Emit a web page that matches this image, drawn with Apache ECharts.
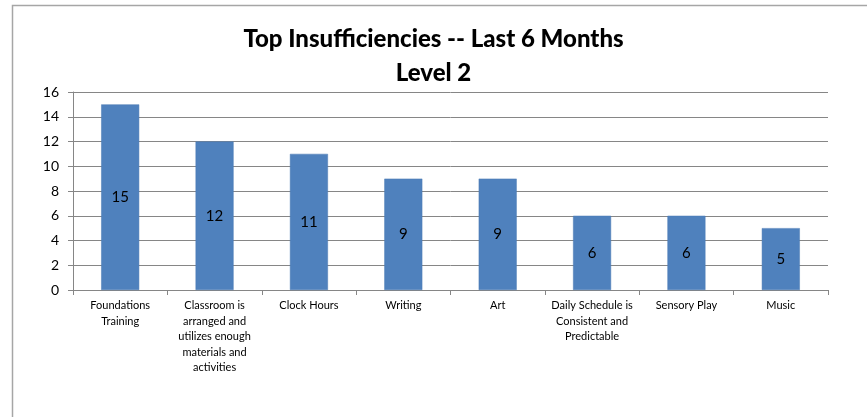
<!DOCTYPE html>
<html>
<head>
<meta charset="utf-8">
<script src="https://cdn.jsdelivr.net/npm/echarts@6/dist/echarts.min.js"></script>
<style>
  html, body { margin: 0; padding: 0; background: #fff; }
  #main { width: 867px; height: 417px; }
</style>
</head>
<body>
<div id="main"></div>
<script>
// chart data
const categories = [
  'Foundations\nTraining',
  'Classroom is\narranged and\nutilizes enough\nmaterials and\nactivities',
  'Clock Hours',
  'Writing',
  'Art',
  'Daily Schedule is\nConsistent and\nPredictable',
  'Sensory Play',
  'Music'
]
const counts = [15, 12, 11, 9, 9, 6, 6, 5]
const yTicks = [0, 2, 4, 6, 8, 10, 12, 14, 16]

const fontFamily = 'Lato, "Open Sans", sans-serif'

const chartObj = echarts.init(document.getElementById('main'))
const option = {
  animation: false,
  backgroundColor: '#fff',
  textStyle: { fontFamily: fontFamily },
  title: {
    text: 'Top Insufficiencies -- Last 6 Months\nLevel 2',
    left: 'center',
    top: 17,
    textStyle: {
      fontFamily: fontFamily,
      fontSize: 24,
      fontWeight: 900,
      color: '#000',
      lineHeight: 34
    }
  },
  // outer chart border
  graphic: [{
    type: 'rect',
    shape: { x: 12.5, y: 5.5, width: 900, height: 500 },
    style: { fill: 'none', stroke: '#a6a6a6', lineWidth: 1.5 },
    silent: true
  }],
  grid: {
    left: 73,
    right: 39,
    top: 92,
    bottom: 127,
    containLabel: false
  },
  xAxis: {
    type: 'category',
    data: categories,
    axisLine: { lineStyle: { color: '#868686' } },
    axisTick: { show: true, length: 5, lineStyle: { color: '#868686' } },
    axisLabel: {
      interval: 0,
      color: '#000',
      fontSize: 11,
      lineHeight: 15.5,
      margin: 8,
      fontFamily: fontFamily
    }
  },
  yAxis: {
    type: 'value',
    min: yTicks[0],
    max: yTicks[yTicks.length - 1],
    interval: 2,
    axisLine: { show: true, lineStyle: { color: '#868686' } },
    axisTick: { show: true, length: 5, lineStyle: { color: '#868686' } },
    axisLabel: {
      color: '#000',
      fontSize: 14,
      margin: 14,
      fontFamily: fontFamily
    },
    splitLine: { lineStyle: { color: '#868686' } }
  },
  series: [{
    type: 'bar',
    data: counts,
    barWidth: 38,
    itemStyle: {
      color: '#4f81bd',
      borderColor: '#4a7ab4',
      borderWidth: 0.5
    },
    label: {
      show: true,
      position: 'inside',
      color: '#000',
      fontSize: 15,
      fontFamily: fontFamily
    }
  }]
}
chartObj.setOption(option, true)
</script>
</body>
</html>
